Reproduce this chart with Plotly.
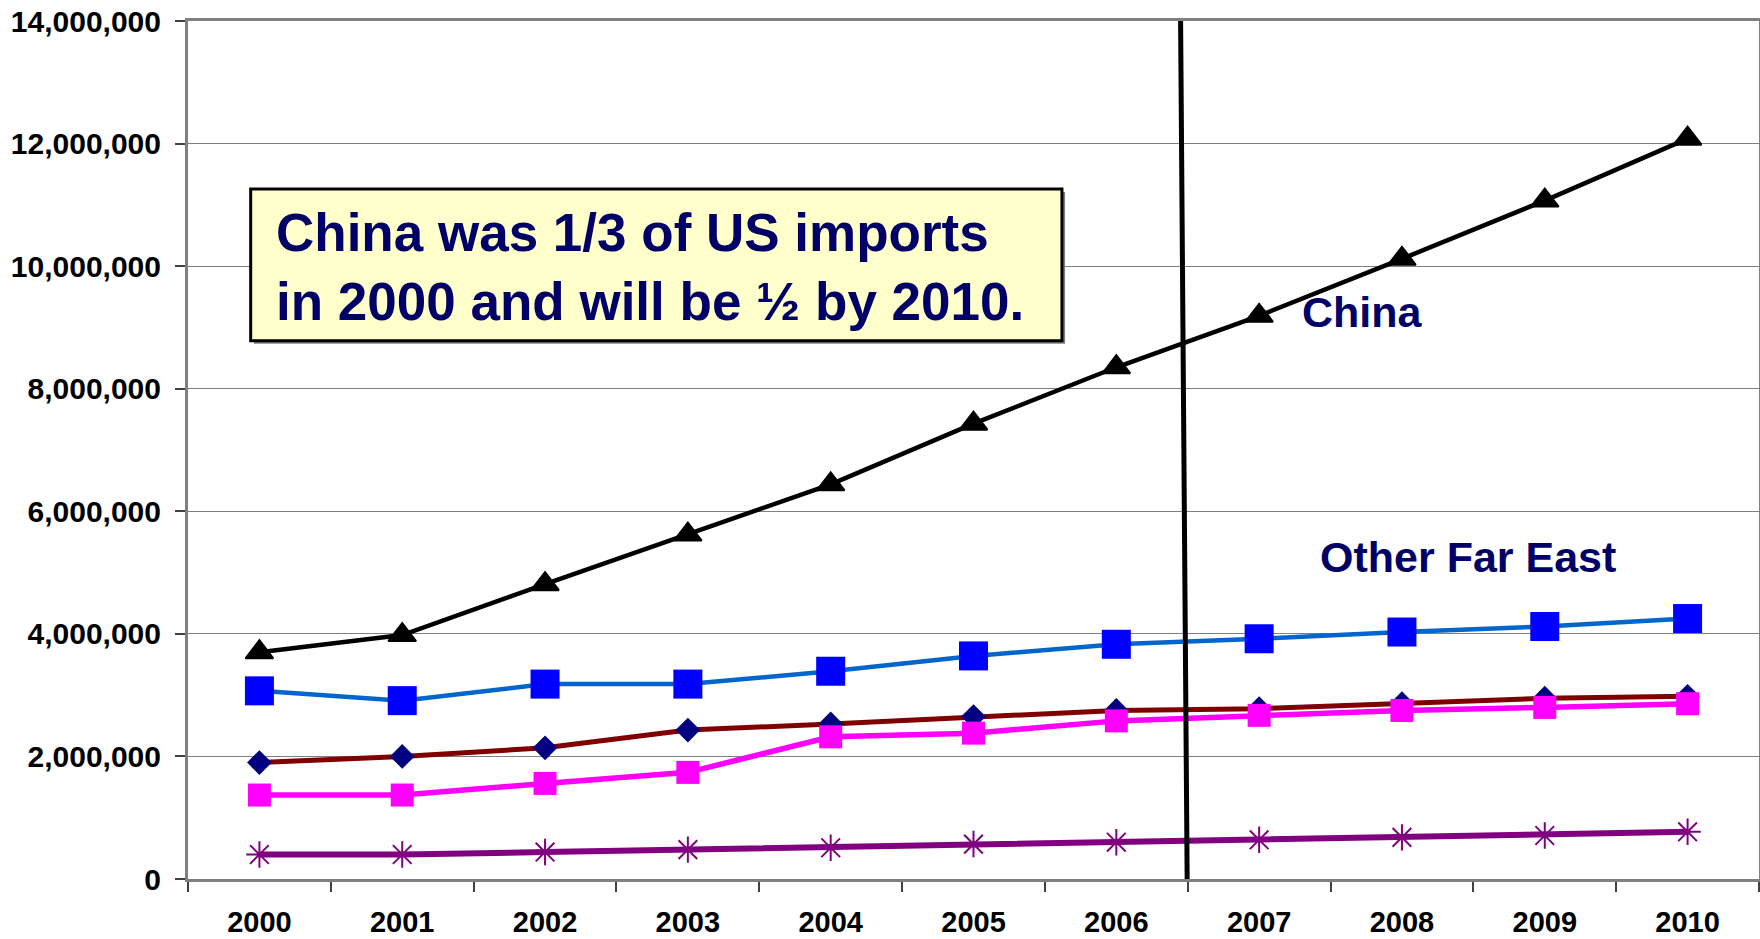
import plotly.graph_objects as go

years = ["2000", "2001", "2002", "2003", "2004", "2005", "2006", "2007", "2008", "2009", "2010"]

china = [3.70e6, 3.98e6, 4.81e6, 5.62e6, 6.44e6, 7.43e6, 8.35e6, 9.19e6, 10.12e6, 11.07e6, 12.08e6]
other_far_east = [3.07e6, 2.91e6, 3.18e6, 3.18e6, 3.39e6, 3.64e6, 3.83e6, 3.92e6, 4.03e6, 4.12e6, 4.25e6]
series_diamond = [1.90e6, 2.00e6, 2.14e6, 2.43e6, 2.53e6, 2.65e6, 2.75e6, 2.78e6, 2.86e6, 2.95e6, 2.98e6]
series_magenta = [1.37e6, 1.37e6, 1.56e6, 1.74e6, 2.32e6, 2.38e6, 2.58e6, 2.67e6, 2.75e6, 2.80e6, 2.86e6]
series_purple = [0.40e6, 0.40e6, 0.44e6, 0.48e6, 0.51e6, 0.57e6, 0.60e6, 0.64e6, 0.68e6, 0.71e6, 0.77e6]

y_ticks = [0, 2e6, 4e6, 6e6, 8e6, 10e6, 12e6, 14e6]
y_tick_text = ["0", "2,000,000", "4,000,000", "6,000,000", "8,000,000", "10,000,000", "12,000,000", "14,000,000"]

FONT = "Arial, Liberation Sans, sans-serif"
NAVY = "#000066"

fig = go.Figure()

fig.add_trace(go.Scatter(
    x=years, y=china, mode="lines+markers", name="China",
    line=dict(color="#000000", width=4.5),
    marker=dict(symbol="triangle-up", size=24, color="#000000",
                line=dict(color="#000000", width=2)),
))
fig.add_trace(go.Scatter(
    x=years, y=other_far_east, mode="lines+markers", name="Other Far East",
    line=dict(color="#0066CC", width=4.5),
    marker=dict(symbol="square", size=29, color="#0000FF", line=dict(width=0)),
))
fig.add_trace(go.Scatter(
    x=years, y=series_diamond, mode="lines+markers", name="Series 3",
    line=dict(color="#800000", width=5),
    marker=dict(symbol="diamond", size=19, color="#000080", line=dict(width=0)),
))
fig.add_trace(go.Scatter(
    x=years, y=series_magenta, mode="lines+markers", name="Series 4",
    line=dict(color="#FF00FF", width=5.5),
    marker=dict(symbol="square", size=23, color="#FF00FF", line=dict(width=0)),
))
fig.add_trace(go.Scatter(
    x=years, y=series_purple, mode="lines+markers", name="Series 5",
    line=dict(color="#800080", width=6),
    marker=dict(symbol="asterisk", size=22, color="#800080",
                line=dict(color="#800080", width=2)),
))

shapes = [
    # vertical divider line
    dict(type="line", xref="x", yref="y", x0=6.45, y0=14e6, x1=6.496, y1=0,
         line=dict(color="#000000", width=5), layer="above"),
    # text box shadow
    dict(type="rect", xref="paper", yref="paper", x0=0.0419, y0=0.6237, x1=0.5583, y1=0.8008,
         line=dict(width=0), fillcolor="#808080", layer="above"),
    # text box
    dict(type="rect", xref="paper", yref="paper", x0=0.0399, y0=0.6272, x1=0.5563, y1=0.8043,
         line=dict(color="#000000", width=3), fillcolor="#FFFFCC", layer="above"),
]

annotations = [
    dict(xref="paper", yref="paper", x=0.0545, y=0.7137, xanchor="left", yanchor="middle",
         align="left", showarrow=False,
         text="<b>China was 1/3 of US imports<br>in 2000 and will be ½ by 2010.</b>",
         font=dict(family=FONT, size=53, color=NAVY)),
    dict(xref="x", yref="y", x=7.725, y=9.25e6, xanchor="center", yanchor="middle",
         showarrow=False, text="<b>China</b>",
         font=dict(family=FONT, size=43, color=NAVY)),
    dict(xref="x", yref="y", x=8.465, y=5.25e6, xanchor="center", yanchor="middle",
         showarrow=False, text="<b>Other Far East</b>",
         font=dict(family=FONT, size=43, color=NAVY)),
]

fig.update_layout(
    width=1760, height=939,
    margin=dict(l=188, r=1, t=21, b=60, pad=0),
    paper_bgcolor="white", plot_bgcolor="white",
    showlegend=False,
    shapes=shapes, annotations=annotations,
    font=dict(family=FONT, color="#000000"),
)

fig.update_xaxes(
    type="category", categoryorder="array", categoryarray=years,
    range=[-0.5, 10.5], automargin=False,
    showgrid=False, zeroline=False,
    showline=True, linecolor="#808080", linewidth=3, mirror=True,
    ticks="outside", tickson="boundaries", ticklen=10, tickwidth=1.5, tickcolor="#404040",
    tickfont=dict(family=FONT, size=29, color="#000000", weight="bold"),
    ticklabelstandoff=15,
)
fig.update_yaxes(
    range=[0, 14e6], tickvals=y_ticks, ticktext=y_tick_text, automargin=False,
    showgrid=True, gridcolor="#808080", gridwidth=1.3, zeroline=False,
    showline=True, linecolor="#808080", linewidth=3, mirror=True,
    ticks="outside", ticklen=10, tickwidth=1.5, tickcolor="#404040",
    tickfont=dict(family=FONT, size=30, color="#000000", weight="bold"),
    ticklabelstandoff=8,
)

fig.write_html(
    "out.html",
    config={"displayModeBar": False},
    post_script="document.body.style.margin='0';document.body.style.overflow='hidden';",
)
